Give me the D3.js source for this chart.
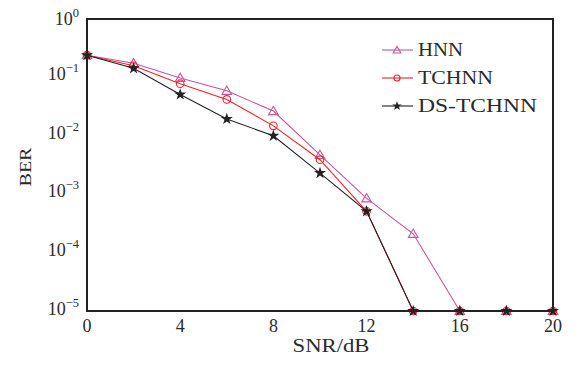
<!DOCTYPE html>
<html><head><meta charset="utf-8">
<script src="https://cdn.jsdelivr.net/npm/d3@7"></script>
<style>body{margin:0;background:#fff}svg{display:block}text{font-family:"Liberation Serif","DejaVu Serif",serif;fill:#2a2a2a}</style>
</head><body><svg id="c" width="578" height="365"></svg>
<script>
const snr = [0,2,4,6,8,10,12,14,16,18,20];
const hnn = [0.24,0.175,0.098,0.059,0.0265,0.0047,8.5e-4,2.1e-4,1e-5,1e-5,1e-5];
const tchnn = [0.24,0.158,0.078,0.042,0.0148,0.0039,5.1e-4,1e-5,1e-5,1e-5,1e-5];
const dstchnn = [0.24,0.143,0.051,0.0194,0.0100,0.0023,5.1e-4,1e-5,1e-5,1e-5,1e-5];
const xTicks = [0,4,8,12,16,20];
const yExp = [0,-1,-2,-3,-4,-5];
const names = ["HNN","TCHNN","DS-TCHNN"];
const colors = ["#c9559a","#f5222a","#222222"];

const svg = d3.select("#c");
const L=87,R=553,T=19,B=311;
const x = d3.scaleLinear().domain([0,20]).range([L,R]);
const y = d3.scaleLog().domain([1e-5,1]).range([B,T]);

// tick labels
xTicks.forEach(t=>{
  svg.append("text").attr("x",x(t)).attr("y",B+21).attr("text-anchor","middle").attr("font-size",18).text(t);
});
yExp.forEach(e=>{
  const yy = y(Math.pow(10,e));
  const off = e===0 ? 6 : (e===-5 ? 4 : 3);
  const t = svg.append("text").attr("x",79).attr("y",yy+off).attr("text-anchor","end").attr("font-size",18);
  t.append("tspan").text("10");
  t.append("tspan").attr("dy",-8).attr("font-size",12.5).text(e===0?"0":"\u2212"+(-e));
});
svg.append("text").attr("x",331).attr("y",352).attr("text-anchor","middle").attr("font-size",18)
  .attr("textLength",77).attr("lengthAdjust","spacingAndGlyphs").text("SNR/dB");
svg.append("text").attr("transform",`translate(31,167) rotate(-90)`).attr("text-anchor","middle").attr("font-size",17)
  .attr("textLength",39).attr("lengthAdjust","spacingAndGlyphs").text("BER");

const line = d3.line().x((d,i)=>x(snr[i])).y(d=>y(d));
const series=[hnn,tchnn,dstchnn];
function marker(g,k,cx,cy,sc){
  sc=sc||1;
  if(k===0) g.append("path").attr("d",d3.symbol().type(d3.symbolTriangle).size(40*sc*sc)()).attr("transform",`translate(${cx},${cy+0.8})`).attr("fill","none").attr("stroke",colors[0]).attr("stroke-width",1.1);
  else if(k===1) g.append("circle").attr("cx",cx).attr("cy",cy).attr("r",3.8*sc).attr("fill","none").attr("stroke",colors[1]).attr("stroke-width",1.1);
  else g.append("path").attr("d",d3.symbol().type(d3.symbolStar).size(45*sc*sc)()).attr("transform",`translate(${cx},${cy})`).attr("fill",colors[2]);
}
series.forEach((s,k)=>{
  const g=svg.append("g");
  g.append("path").attr("d",line(s)).attr("fill","none").attr("stroke",colors[k]).attr("stroke-width",1.1);
  s.forEach((v,i)=>marker(g,k,x(snr[i]),y(v)));
});

// frame
svg.append("rect").attr("x",L).attr("y",T).attr("width",R-L).attr("height",B-T).attr("fill","none").attr("stroke","#222").attr("stroke-width",2);

// legend
const ly=[50,78,106];
const lw=[45,75,119];
names.forEach((n,k)=>{
  const g=svg.append("g");
  g.append("line").attr("x1",382).attr("x2",413).attr("y1",ly[k]).attr("y2",ly[k]).attr("stroke",colors[k]).attr("stroke-width",1.1);
  marker(g,k,397,ly[k],0.8);
  g.append("text").attr("x",418).attr("y",ly[k]+6).attr("font-size",18)
    .attr("textLength",lw[k]).attr("lengthAdjust","spacingAndGlyphs").text(n);
});
</script></body></html>
